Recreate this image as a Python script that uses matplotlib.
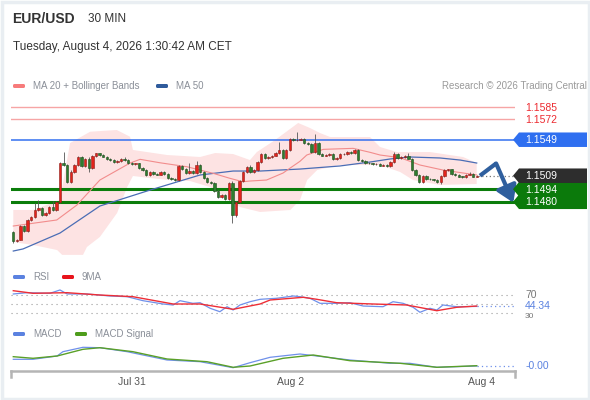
import matplotlib
matplotlib.use('Agg')
import matplotlib.pyplot as plt
from matplotlib.patches import Rectangle, Polygon, FancyBboxPatch

plt.rcParams['font.family'] = ['Liberation Sans', 'DejaVu Sans']

# ---------------- data ----------------
pip = 0.0001
first_open = 1.14468
closes = [
    1.14368, 1.14381, 1.14531, 1.14476, 1.14598, 1.14631, 1.14709, 1.14731, 1.14653, 1.14676,
    1.14742, 1.14709, 1.14798, 1.15231, 1.15209, 1.15023, 1.15131, 1.15209, 1.15298, 1.15198,
    1.15276, 1.15176, 1.15309, 1.15337, 1.15320, 1.15303, 1.15276, 1.15264, 1.15246, 1.15253,
    1.15276, 1.15264, 1.15228, 1.15220, 1.15226, 1.15172, 1.15153, 1.15098, 1.15131, 1.15109,
    1.15103, 1.15134, 1.15109, 1.15061, 1.15050, 1.15042, 1.15198, 1.15161, 1.15123, 1.15142,
    1.15117, 1.15209, 1.15131, 1.15061, 1.15023, 1.15006, 1.14923, 1.14850, 1.14876, 1.14831,
    1.15006, 1.14653, 1.14798, 1.15031, 1.15131, 1.15187, 1.15134, 1.15153, 1.15246, 1.15328,
    1.15283, 1.15301, 1.15314, 1.15339, 1.15376, 1.15283, 1.15376, 1.15498, 1.15487, 1.15492,
    1.15498, 1.15450, 1.15442, 1.15353, 1.15453, 1.15328, 1.15314, 1.15320, 1.15331, 1.15276,
    1.15287, 1.15328, 1.15331, 1.15350, 1.15337, 1.15376, 1.15264, 1.15253, 1.15228, 1.15226,
    1.15217, 1.15220, 1.15203, 1.15209, 1.15198, 1.15242, 1.15328, 1.15290, 1.15298, 1.15312,
    1.15281, 1.15153, 1.15098, 1.15023, 1.15087, 1.15053, 1.15048, 1.15042, 1.15023, 1.15090,
    1.15153, 1.15160, 1.15109, 1.15098, 1.15081, 1.15079, 1.15103, 1.15114, 1.15081, 1.15090,
]
# wicks beyond the body, in pips
upper_wick = [
    1, 1, 1, 1, 1, 1, 8, 9, 1, 1,
    1, 7, 1, 1, 12, 1, 2, 1, 1, 1,
    1, 2, 1, 1, 1, 1, 1, 1, 1, 1,
    1, 2, 1, 1, 1, 1, 1, 1, 1, 1,
    1, 1, 1, 1, 1, 1, 1, 1, 1, 9,
    1, 4, 1, 1, 1, 1, 1, 1, 1, 1,
    1, 2, 1, 1, 1, 1, 2, 1, 1, 1,
    1, 1, 1, 1, 9, 1, 1, 1, 1, 8,
    1, 1, 1, 1, 10, 1, 1, 1, 1, 1,
    1, 1, 1, 1, 1, 1, 1, 1, 1, 1,
    1, 1, 1, 1, 1, 1, 2, 1, 1, 1,
    3, 1, 1, 1, 1, 1, 1, 1, 1, 1,
    1, 1, 1, 1, 1, 1, 1, 2, 1, 1,
]
lower_wick = [
    3, 2, 1, 1, 1, 1, 1, 1, 1, 1,
    1, 1, 1, 1, 1, 1, 1, 1, 1, 1,
    1, 4, 1, 1, 1, 1, 1, 1, 1, 1,
    1, 1, 1, 1, 1, 1, 1, 1, 1, 1,
    1, 1, 1, 1, 1, 1, 1, 1, 1, 1,
    1, 1, 1, 1, 1, 1, 1, 1, 1, 1,
    1, 9, 2, 1, 1, 1, 1, 1, 1, 1,
    1, 1, 1, 1, 1, 1, 1, 1, 1, 1,
    1, 1, 1, 1, 1, 1, 1, 1, 1, 1,
    1, 1, 1, 1, 1, 1, 1, 1, 1, 1,
    1, 1, 1, 1, 1, 1, 1, 1, 1, 1,
    1, 1, 1, 1, 1, 1, 1, 1, 1, 3,
    1, 1, 1, 1, 1, 1, 1, 1, 1, 1,
]

# moving averages / bands (candle index, price)
ma20_idx = [0, 12.1, 17.7, 24.1, 32.5, 35.3, 40.8, 48.3, 55.6, 60.3, 63.9, 65.9, 70.5, 75.1,
            77.1, 79.8, 81.7, 86.3, 94.6, 99.3, 102.1, 107.7, 113.2, 119.6, 129]
ma20_val = [1.14531, 1.14598, 1.14764, 1.15042, 1.15231, 1.15272, 1.15234, 1.15190, 1.15117,
            1.15061, 1.15023, 1.15031, 1.15042, 1.15120, 1.15176, 1.15250, 1.15320, 1.15383,
            1.15394, 1.15350, 1.15320, 1.15290, 1.15209, 1.15153, 1.15098]
ma50_idx = [0, 2.7, 13.0, 24.1, 38.1, 52.0, 61.2, 68.7, 79.8, 90.9, 99.3, 104.9, 110.4,
            118.8, 124.4, 129]
ma50_val = [1.14253, 1.14276, 1.14453, 1.14753, 1.14931, 1.15098, 1.15142, 1.15142, 1.15164,
            1.15198, 1.15242, 1.15276, 1.15298, 1.15287, 1.15264, 1.15231]
bb_up_idx = [0, 5.5, 13.0, 15.8, 21.4, 28.8, 32.5, 33.3, 42.8, 52.0, 56.2, 61.2, 65.9, 67.8,
             72.9, 79.3, 82.6, 85.4, 88.2, 99.3, 102.1, 106.8, 116.0, 125.2, 129]
bb_up_val = [1.14709, 1.14709, 1.14820, 1.15453, 1.15579, 1.15598, 1.15523, 1.15376, 1.15320,
             1.15298, 1.15342, 1.15331, 1.15264, 1.15353, 1.15487, 1.15676, 1.15620, 1.15564,
             1.15520, 1.15520, 1.15409, 1.15353, 1.15353, 1.15298, 1.15231]
bb_lo_idx = [0, 5.5, 12.2, 13.6, 19.4, 20.5, 24.1, 28.9, 31.7, 33.3, 38.1, 43.6, 49.2, 54.8,
             61.2, 63.1, 68.7, 77.1, 79.8, 81.8, 84.6, 90.9, 102.1, 107.7, 111.3, 118.8, 129]
bb_lo_val = [1.14353, 1.14320, 1.14264, 1.14210, 1.14210, 1.14298, 1.14409, 1.14676, 1.14964,
             1.15087, 1.15064, 1.15042, 1.15031, 1.14964, 1.14787, 1.14742, 1.14687, 1.14709,
             1.14820, 1.15042, 1.15153, 1.15209, 1.15209, 1.15131, 1.15042, 1.14987, 1.14998]

# RSI panel
rsi_idx = [0, 3.8, 10.2, 13, 15, 20.5, 26.9, 31.7, 36.1, 41.7, 44.5, 46.4, 50, 52, 54.8, 57.5,
           59.5, 61.2, 63.1, 65.9, 68.7, 73.3, 78, 79.8, 82.6, 85.4, 90, 93.7, 97.4, 102.9,
           105.7, 108.5, 111.3, 113.2, 116, 117.9, 119.6, 123.4, 129]
rsi_val = [73.3, 76.3, 74.9, 82.6, 73.3, 73.3, 68.6, 67, 57.7, 50, 47.7, 57.7, 51.6, 53, 40,
           32.1, 43.7, 36, 47.7, 55.3, 60.9, 63.3, 68.6, 67, 63.3, 51.6, 51.6, 53, 45.3, 43.7,
           55.3, 51.6, 42.3, 30.7, 40, 36, 47.7, 43.7, 44.34]
rsi_ma_idx = [0, 5.5, 15, 24.1, 33.3, 44.5, 52, 61.2, 68.7, 71.5, 80.7, 84.5, 90, 100.1,
              109.5, 117.9, 123.4, 129]
rsi_ma_val = [80.9, 74.9, 76.3, 70.9, 67, 50, 50, 37.7, 50, 59.3, 65.6, 60.9, 53, 50, 47.7,
              34.4, 42.3, 45.3]
rsi_levels = [70, 50, 30]

# MACD panel
macd_idx = [0, 5.5, 12.2, 13.8, 19.4, 24.1, 31.7, 42.8, 52, 61.2, 65.9, 71.5, 79.8, 84.5,
            93.7, 104.9, 110.4, 117.9, 129]
macd_val = [0.00067, 0.00067, 0.0010, 0.00143, 0.00187, 0.00183, 0.00143, 0.0006, 0.00043,
            -0.00017, 0.00033, 0.00087, 0.0012, 0.0010, 0.0006, 0.00027, 0.00027, -0.00013, 0.0]
sig_idx = [0, 5.5, 12.2, 19.4, 24.1, 33.3, 42.8, 53.9, 61.2, 65.9, 75.1, 83.5, 93.7, 107.7,
           117.9, 129]
sig_val = [0.00093, 0.00077, 0.0010, 0.00167, 0.00183, 0.00143, 0.0007, 0.00043, -0.00013,
           0.0, 0.00077, 0.0011, 0.00053, 0.00027, -0.00013, 0.00003]

levels_red = [1.1585, 1.1572]
level_blue = 1.1549
levels_green = [1.1494, 1.1480]
last_price = 1.1509
arrow_idx = [129.9, 134.4, 139.2]
arrow_prices = [1.15090, 1.15226, 1.14790]
tick_pos = [33.0, 77.2, 130.2]
tick_labels = ['Jul 31', 'Aug 2', 'Aug 4']

# ---------------- figure ----------------
W, H = 590, 400
fig = plt.figure(figsize=(W / 100, H / 100), dpi=100)
fig.patch.set_facecolor('white')

def frac(x0, y0, x1, y1):
    return [x0 / W, 1 - y1 / H, (x1 - x0) / W, (y1 - y0) / H]

XL = (-0.64, 139.66)

ax = fig.add_axes(frac(11, 95, 515, 262))
ax.set_xlim(*XL)
ax.set_ylim(1.14131, 1.15987)
ax.set_axis_off()

# bollinger band area
ax.fill(bb_up_idx + bb_lo_idx[::-1], bb_up_val + bb_lo_val[::-1],
        color='#fde3e3', lw=0, zorder=1)

for p in levels_red:
    ax.axhline(p, color='#f6a5a5', lw=1.0, zorder=2)
ax.axhline(level_blue, color='#3370f0', lw=1.1, zorder=2)
for p in levels_green:
    ax.axhline(p, color='#0b7d0b', lw=2.2, zorder=2)

ax.plot(ma50_idx, ma50_val, color='#4a6db5', lw=0.9, zorder=3)
ax.plot(ma20_idx, ma20_val, color='#f28c8c', lw=0.8, zorder=3)

# candles (red = up, green = down)
opens = [first_open] + closes[:-1]
for i, (o, c) in enumerate(zip(opens, closes)):
    up = c >= o
    hi = max(o, c) + upper_wick[i] * pip
    lo = min(o, c) - lower_wick[i] * pip
    ax.vlines(i, lo, hi, color='#555555', lw=0.6, zorder=4)
    h = max(abs(c - o), 0.00004)
    ax.add_patch(Rectangle((i - 0.33, min(o, c)), 0.66, h,
                           fc='#e3231b' if up else '#2e7d2e',
                           ec='#8a1c18' if up else '#1c4c1c', lw=0.4, zorder=5))

ax.hlines(last_price, len(closes) - 0.6, XL[1], colors='#777777',
          linestyles=(0, (1, 2)), lw=0.9, zorder=4)

arrow_col = '#2f5f9e'
ax.plot(arrow_idx[:2], arrow_prices[:2], color=arrow_col, lw=3, zorder=6,
        solid_capstyle='butt')
ax.annotate('', xy=(arrow_idx[2], arrow_prices[2]), xytext=(arrow_idx[1], arrow_prices[1]),
            arrowprops=dict(arrowstyle='-|>,head_width=0.45,head_length=0.7', lw=3,
                            color=arrow_col, shrinkA=0, shrinkB=0, mutation_scale=14),
            zorder=6)

# RSI
ax_r = fig.add_axes(frac(11, 285, 515, 318))
ax_r.set_xlim(*XL)
ax_r.set_ylim(17.44, 94.19)
ax_r.set_axis_off()
for lv in rsi_levels:
    ax_r.axhline(lv, color='#9a9a9a', lw=0.8, ls=(0, (1, 3.5)))
ax_r.plot(rsi_idx, rsi_val, color='#6f90ea', lw=0.9, zorder=3)
ax_r.plot(rsi_ma_idx, rsi_ma_val, color='#ee2e36', lw=1.0, zorder=4)
ax_r.hlines(rsi_val[-1], rsi_idx[-1], XL[1], colors='#6f90ea', linestyles=(0, (1, 2.5)), lw=0.9)
yt = ax_r.get_yaxis_transform()
ax_r.text(1.02, 70, '70', transform=yt, fontsize=7.5, color='#777777', va='center')
ax_r.text(1.02, 30, '30', transform=yt, fontsize=6, color='#777777', va='top')
ax_r.text(1.02, rsi_val[-1] + 1.5, '%.2f' % rsi_val[-1], transform=yt, fontsize=7.5,
          color='#5b82e0', va='center',
          bbox=dict(fc='white', ec='none', pad=0.3))

# MACD
ax_m = fig.add_axes(frac(11, 340, 515, 370.5))
ax_m.set_xlim(*XL)
ax_m.set_ylim(-0.00045, 0.0026)
for s in ['top', 'left', 'right']:
    ax_m.spines[s].set_visible(False)
ax_m.spines['bottom'].set_color('#b5b5b5')
ax_m.spines['bottom'].set_linewidth(1.8)
ax_m.set_yticks([])
ax_m.set_xticks(tick_pos)
ax_m.set_xticklabels(tick_labels, fontsize=7.5, color='#555555')
ax_m.tick_params(axis='x', length=0, pad=5)
ax_m.plot(macd_idx, macd_val, color='#6f90ea', lw=0.9, zorder=3)
ax_m.plot(sig_idx, sig_val, color='#5aa028', lw=1.0, zorder=4)
ax_m.hlines(macd_val[-1], macd_idx[-1], XL[1], colors='#6f90ea', linestyles=(0, (1, 2.5)), lw=0.9)
for xe in (0, 1):
    ax_m.plot([xe, xe], [0, -0.21], transform=ax_m.transAxes, color='#b5b5b5',
              lw=1.8, clip_on=False)
ax_m.text(1.02, macd_val[-1], '-0.00', transform=ax_m.get_yaxis_transform(), fontsize=7.5,
          color='#5b82e0', va='center')

# ---------------- overlay: texts, tags, legends ----------------
ov = fig.add_axes([0, 0, 1, 1])
ov.set_xlim(0, W)
ov.set_ylim(H, 0)
ov.set_axis_off()
ov.patch.set_alpha(0)

def ypix(p):
    return H - ax.transData.transform((0, p))[1]

def tag(p, text, color, h=14.5):
    yc = ypix(p)
    ov.add_patch(Polygon([(513, yc), (519, yc - h / 2), (587, yc - h / 2),
                          (587, yc + h / 2), (519, yc + h / 2)],
                         closed=True, fc=color, ec='none', zorder=5))
    ov.text(525, yc + 0.5, text, fontsize=7.5, color='white', va='center', zorder=6)

for p in levels_red:
    ov.text(525, ypix(p) + 0.5, '%.4f' % p, fontsize=7.5, color='#ec2a30', va='center')
tag(level_blue, '%.4f' % level_blue, '#2f6ff0')
for p in levels_green:
    tag(p, '%.4f' % p, '#0b7a0b')
tag(last_price, '%.4f' % last_price, '#2d2d2d')

ov.text(12, 19, 'EUR/USD', fontsize=10, fontweight='bold', color='#333333', va='center')
ov.text(88, 19, '30 MIN', fontsize=8.5, color='#333333', va='center')
ov.text(13, 47, 'Tuesday, August 4, 2026 1:30:42 AM CET', fontsize=8.5,
        color='#333333', va='center')

def legend_item(x, y, color, label):
    ov.add_patch(FancyBboxPatch((x, y - 2), 12, 4, boxstyle='round,pad=0,rounding_size=1.5',
                                fc=color, ec='none'))
    ov.text(x + 20, y, label, fontsize=7, color='#8a8f98', va='center')

legend_item(13, 86, '#f77b7b', 'MA 20 + Bollinger Bands')
legend_item(156, 86, '#2f5b9c', 'MA 50')
ov.text(587, 86, 'Research \u00a9 2026 Trading Central', fontsize=7, color='#9a9a9a',
        va='center', ha='right')
legend_item(13, 277, '#5b82e0', 'RSI')
legend_item(62, 277, '#e8141c', '9MA')
legend_item(13, 334, '#5b82e0', 'MACD')
legend_item(75, 334, '#4e9d1c', 'MACD Signal')

ov.add_patch(Rectangle((1.5, 1.5), W - 3, H - 3, fc='none', ec='#e9eef2', lw=2.5))

fig.savefig('out.png', dpi=100)
